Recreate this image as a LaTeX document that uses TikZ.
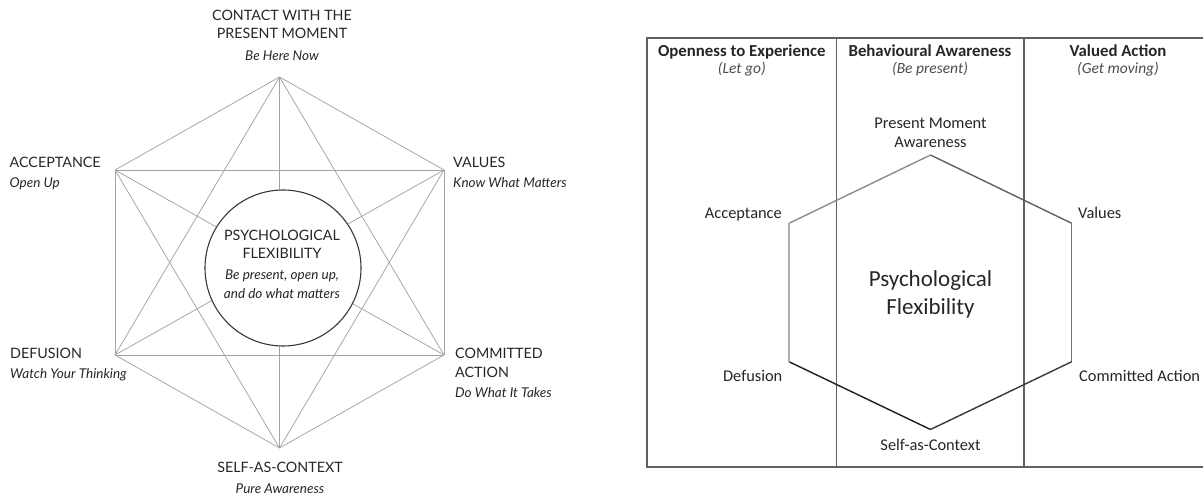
\documentclass[tikz,border=0pt]{standalone}
\usepackage{fontspec}
\setmainfont{Carlito}
\newfontfamily\gillfont{Lato}
\begin{document}
\begin{tikzpicture}[x=1pt,y=-1pt,
  ink/.style={text=black!85},
  hexline/.style={draw=black!36, line width=0.75pt},
  caps/.style={ink, inner sep=0, font=\gillfont\fontsize{14.3}{17}\selectfont},
  capsit/.style={ink, inner sep=0, font=\gillfont\itshape\fontsize{13.5}{16}\selectfont},
  rule/.style={draw=black!62, line width=1.8pt},
  head/.style={ink, inner sep=0, font=\bfseries\fontsize{16.8}{20}\selectfont},
  sub/.style={text=black!70, inner sep=0, font=\itshape\fontsize{15.5}{18}\selectfont},
  lab/.style={ink, inner sep=0, font=\fontsize{16.4}{19}\selectfont},
  big/.style={ink, inner sep=0, font=\fontsize{23}{27}\selectfont},
  edge/.style={line width=1.4pt}
]
\useasboundingbox (0,0) rectangle (1203,497);

% ---------- hexaflex: six processes, every pair joined ----------
\coordinate (T) at (279.5,77);
\coordinate (A) at (115,170);
\coordinate (V) at (444,170);
\coordinate (D) at (115,355);
\coordinate (C) at (444,355);
\coordinate (B) at (279.5,448);
\foreach \p/\q in {T/A,T/V,T/D,T/C,T/B,A/V,A/D,A/C,A/B,V/D,V/C,V/B,D/C,D/B,C/B}
  \draw[hexline] (\p) -- (\q);
\node[circle, draw=black!78, line width=1.1pt, fill=white, minimum size=156pt, inner sep=0] (pf) at (283,268) {};

\node[caps, anchor=base] (cm1) at (282,20.7) {CONTACT WITH THE};
\node[caps, anchor=base] (cm2) at (282,39) {PRESENT MOMENT};
\node[capsit, anchor=base] (cm3) at (282,60.5) {Be Here Now};

\node[caps, anchor=base west] (ac1) at (9.5,167.3) {ACCEPTANCE};
\node[capsit, anchor=base west] (ac2) at (9.5,187.5) {Open Up};

\node[caps, anchor=base west] (va1) at (453,167.3) {VALUES};
\node[capsit, anchor=base west] (va2) at (453,187.5) {Know What Matters};

\node[caps, anchor=base] (pf1) at (282,240.5) {PSYCHOLOGICAL};
\node[caps, anchor=base] (pf2) at (282,259) {FLEXIBILITY};
\node[capsit, anchor=base] (pf3) at (282,279.5) {Be present, open up,};
\node[capsit, anchor=base] (pf4) at (282,299) {and do what matters};

\node[caps, anchor=base west] (df1) at (10,358.3) {DEFUSION};
\node[capsit, anchor=base west] (df2) at (10,378.5) {Watch Your Thinking};

\node[caps, anchor=base west] (ca1) at (455,358.3) {COMMITTED};
\node[caps, anchor=base west] (ca2) at (455,377) {ACTION};
\node[capsit, anchor=base west] (ca3) at (455,397.7) {Do What It Takes};

\node[caps, anchor=base] (sc1) at (280,472.5) {SELF-AS-CONTEXT};
\node[capsit, anchor=base] (sc2) at (280,493.5) {Pure Awareness};

% ---------- three-column frame ----------
\coordinate (fTL) at (647.3,38.3);
\coordinate (fBL) at (647.3,466.7);
\coordinate (fTR) at (1203,38.3);
\coordinate (fBR) at (1203,466.7);
\coordinate (d1t) at (836.5,38.3);
\coordinate (d1b) at (836.5,466.7);
\coordinate (d2t) at (1024,38.3);
\coordinate (d2b) at (1024,466.7);
\draw[rule] (fTR) -- (fTL) -- (fBL) -- (fBR);
\draw[rule] (d1t) -- (d1b);
\draw[rule] (d2t) -- (d2b);

\node[head, anchor=base] (h1) at (741.8,56.7) {Openness to Experience};
\node[sub, anchor=base] (s1) at (741.8,74) {(Let go)};
\node[head, anchor=base] (h2) at (930,56.7) {Behavioural Awareness};
\node[sub, anchor=base] (s2) at (930,74) {(Be present)};
\node[head, anchor=base] (h3) at (1118,56.7) {Valued Action};
\node[sub, anchor=base] (s3) at (1118,74) {(Get moving)};

% ---------- hexagon across the columns ----------
\coordinate (T2) at (930.5,155);
\coordinate (A2) at (789,223.3);
\coordinate (V2) at (1071.7,223.3);
\coordinate (D2) at (789,361.7);
\coordinate (C2) at (1071.7,361.7);
\coordinate (B2) at (930.5,429.5);
\draw[edge, draw=black!45] (A2) -- (T2);
\draw[edge, draw=black!62] (T2) -- (V2);
\draw[edge, draw=black!55] (V2) -- (C2);
\draw[edge, draw=black!78] (C2) -- (B2);
\draw[edge, draw=black!88] (B2) -- (D2);
\draw[edge, draw=black!32] (D2) -- (A2);

\node[lab, anchor=base] (pm1) at (930.5,128.3) {Present Moment};
\node[lab, anchor=base] (pm2) at (930.5,148) {Awareness};
\node[lab, anchor=base east] (acc) at (782,218.3) {Acceptance};
\node[lab, anchor=base west] (val) at (1078,218.3) {Values};
\node[big, anchor=base] (ps1) at (930.5,287) {Psychological};
\node[big, anchor=base] (ps2) at (930.5,315) {Flexibility};
\node[lab, anchor=base east] (def) at (782.5,381.7) {Defusion};
\node[lab, anchor=base west] (com) at (1079,381.7) {Committed Action};
\node[lab, anchor=base] (sac) at (930.5,450) {Self-as-Context};
\end{tikzpicture}
\end{document}
